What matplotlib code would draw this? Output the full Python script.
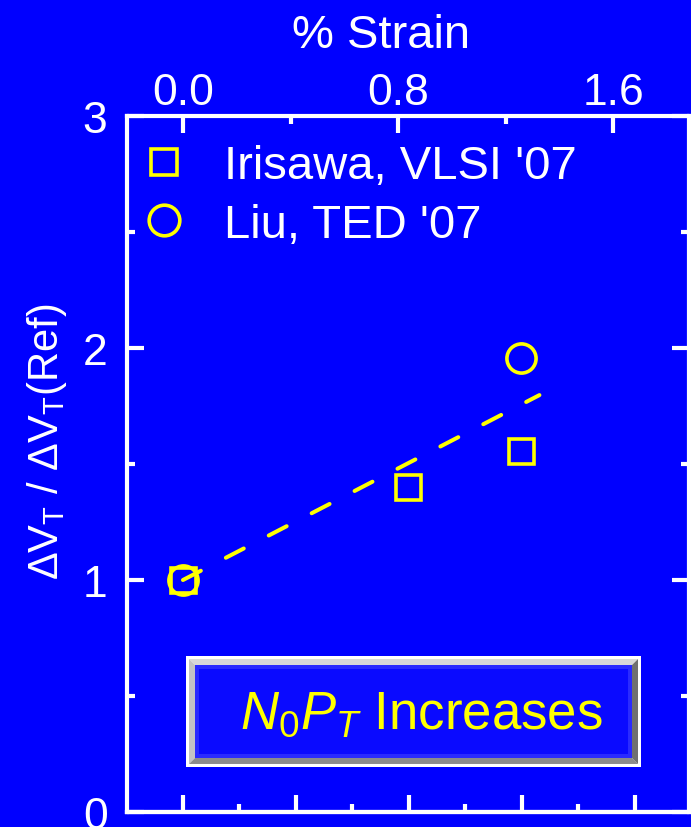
import matplotlib
matplotlib.use("Agg")
import matplotlib.pyplot as plt
from matplotlib.patches import Rectangle, Polygon
from matplotlib.ticker import MultipleLocator, FixedLocator, NullFormatter

plt.rcParams['font.family'] = ['Liberation Sans', 'DejaVu Sans']
plt.rcParams['mathtext.fontset'] = 'custom'
plt.rcParams['mathtext.rm'] = 'Liberation Sans'
plt.rcParams['mathtext.it'] = 'Liberation Sans:italic'

BLUE = '#0000ff'
YELLOW = '#ffff00'

# strain (%) vs normalised threshold voltage shift
irisawa_strain = [0.0, 0.836, 1.257]
irisawa_ratio = [1.0, 1.40, 1.555]
liu_strain = [0.0, 1.257]
liu_ratio = [1.0, 1.955]
fit_strain = [0.0, 1.325]
fit_ratio = [1.0, 1.797]

strain_ticks = [0.0, 0.8, 1.6]
ratio_ticks = [0, 1, 2, 3]

fig = plt.figure(figsize=(6.91, 8.28), dpi=100, facecolor=BLUE)
ax = fig.add_axes([0.1838, 0.0181, 0.8133, 0.8406], facecolor=BLUE)

ax.plot(fit_strain, fit_ratio, color=YELLOW, lw=2.9, dashes=(5, 7),
        dash_capstyle='round')
ax.plot(irisawa_strain, irisawa_ratio, ls='none', marker='s', ms=18,
        mfc='none', mec=YELLOW, mew=2.6, label="Irisawa, VLSI '07")
ax.plot(liu_strain, liu_ratio, ls='none', marker='o', ms=21,
        mfc='none', mec=YELLOW, mew=2.6, label="Liu, TED '07")

ax.set_xlim(-0.208, 1.881)
ax.set_ylim(0, 3)

for s in ax.spines.values():
    s.set_color('white')
    s.set_linewidth(3)

ax.xaxis.tick_top()
ax.set_xticks(strain_ticks)
ax.set_xticklabels([f'{t:.1f}' for t in strain_ticks])
ax.xaxis.set_minor_locator(FixedLocator([0.4, 1.2]))
ax.set_yticks(ratio_ticks)
ax.yaxis.set_minor_locator(MultipleLocator(0.5))
ax.tick_params(which='both', direction='in', color='white', width=3,
               labelcolor='white', labelsize=32, right=True, left=True,
               top=True, bottom=False, labelbottom=False)
ax.tick_params(which='major', length=12)
ax.tick_params(which='minor', length=6)
ax.tick_params(axis='x', pad=2.5)
ax.tick_params(axis='y', pad=14)

# stress axis along the bottom (labels fall outside the figure)
sec = ax.secondary_xaxis('bottom', functions=(lambda s: s / 0.42, lambda g: g * 0.42))
sec.set_xticks([0, 1, 2, 3, 4])
sec.xaxis.set_minor_locator(MultipleLocator(0.5))
sec.xaxis.set_major_formatter(NullFormatter())
sec.spines['bottom'].set_color('white')
sec.spines['bottom'].set_linewidth(3)
sec.tick_params(which='both', direction='in', color='white', width=3)
sec.tick_params(which='major', length=12)
sec.tick_params(which='minor', length=6)

ax.xaxis.set_label_position('top')
ax.set_xlabel('% Strain', color='white', fontsize=34)
ax.xaxis.set_label_coords(0.452, 1.116)
ax.xaxis.label.set_va('center')

ax.set_ylabel(r'$\Delta$V$_\mathrm{T}$ / $\Delta$V$_\mathrm{T}$(Ref)',
              color='white', fontsize=30)
ax.yaxis.set_label_coords(-0.142, 0.534)
ax.yaxis.label.set_va('center')

leg = ax.legend(loc='upper left', bbox_to_anchor=(0.023, 0.9595), frameon=False,
                fontsize=34, handlelength=1.0, handletextpad=0.77,
                labelspacing=0.31, borderpad=0, borderaxespad=0, markerscale=1.05)
for t in leg.get_texts():
    t.set_color('white')


def bevel_box(ax, x0, y0, x1, y1):
    px = 1 / 562
    py = 1 / 696
    tr = ax.transAxes
    ax.add_patch(Rectangle((x0, y0), x1 - x0, y1 - y0, transform=tr,
                           fc='white', ec='none', zorder=5))
    a0, b0, a1, b1 = x0 + 3 * px, y0 + 3 * py, x1 - 3 * px, y1 - 3 * py
    c0, d0, c1, d1 = a0 + 6 * px, b0 + 6 * py, a1 - 6 * px, b1 - 6 * py
    ax.add_patch(Polygon([(a0, b1), (a1, b1), (c1, d1), (c0, d1)], transform=tr,
                         fc='#d8d8d8', ec='none', zorder=6))
    ax.add_patch(Polygon([(a0, b0), (a0, b1), (c0, d1), (c0, d0)], transform=tr,
                         fc='#c4c4c4', ec='none', zorder=6))
    ax.add_patch(Polygon([(a0, b0), (a1, b0), (c1, d0), (c0, d0)], transform=tr,
                         fc='#8c8c8c', ec='none', zorder=6))
    ax.add_patch(Polygon([(a1, b0), (a1, b1), (c1, d1), (c1, d0)], transform=tr,
                         fc='#707070', ec='none', zorder=6))
    ax.add_patch(Rectangle((c0, d0), c1 - c0, d1 - d0, transform=tr,
                           fc='#2a2aff', ec='none', zorder=7))
    ax.add_patch(Rectangle((c0 + 4 * px, d0 + 4 * py), c1 - c0 - 8 * px,
                           d1 - d0 - 8 * py, transform=tr,
                           fc='#0a0aff', ec='none', zorder=8))


bevel_box(ax, 0.105, 0.0647, 0.9146, 0.2241)
ax.text(0.523, 0.141, r'$N_{\mathit{0}}P_T$ Increases', transform=ax.transAxes,
        color=YELLOW, fontsize=38, ha='center', va='center', zorder=10)

fig.savefig('out.png', dpi=100, facecolor=BLUE)
